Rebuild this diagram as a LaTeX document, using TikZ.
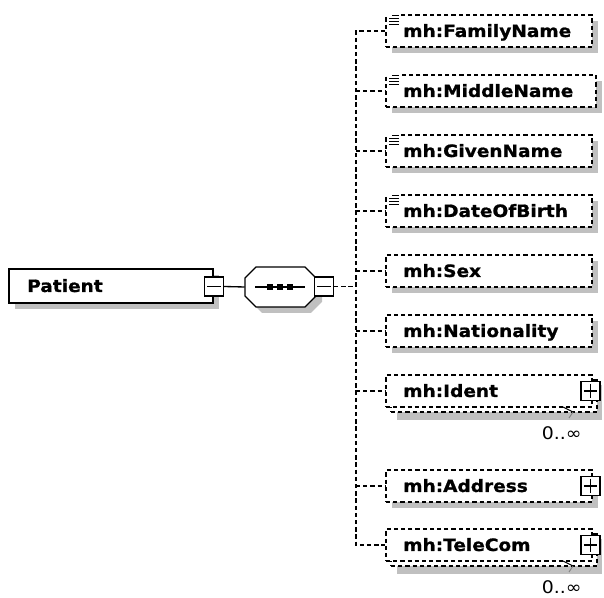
\documentclass[tikz,border=0pt]{standalone}
\usepackage{fontspec}
\usetikzlibrary{fit}
\newfontfamily\lblfont{DejaVu Sans}[FakeStretch=1.09, BoldFeatures={FakeBold=1}]
\definecolor{shd}{RGB}{192,192,192}
\tikzset{
  solidbox/.style={draw=black, fill=white, line width=1pt, inner sep=0pt},
  dashbox/.style={draw=black, fill=white, line width=1pt, inner sep=0pt, dash pattern=on 3.2pt off 2.2pt},
  dline/.style={draw=black, line width=1pt, dash pattern=on 3.2pt off 2.2pt},
  sline/.style={draw=black, line width=1pt},
  etext/.style={anchor=base west, inner sep=0pt, font=\lblfont\bfseries\fontsize{12.75}{14}\selectfont},
  occ/.style={anchor=base east, inner sep=0pt, font=\lblfont\fontsize{13}{14}\selectfont},
  pmbox/.style={draw=black, fill=white, line width=1.1pt, inner sep=0pt, minimum width=14pt, minimum height=14.5pt},
  pmsign/.style={draw=black, line width=1pt},
}
\newcommand\elemrow[4]{%
  \fill[shd] (392,#2-10) rectangle (#3+6,#2+22);
  \node[dashbox, fit={(386,#2-16) (#3,#2+16)}] (#1) {};
  \node[etext] (#1txt) at (403,#2+6) {mh:#4};
}
\newcommand\simpleicon[1]{%
  \fill[white] ([shift={(2,-1)}]#1.north west) rectangle ([shift={(16,12)}]#1.north west);
  \foreach \k/\a in {0/3,1/0,2/0,3/0}
    \draw[line width=0.8pt] ([shift={(4+\a,1.5+3*\k)}]#1.north west) -- ++(10-\a,0);
}
\newcommand\plusbox[2]{%
  \node[pmbox] (#1pm) at (590.5,#2) {};
  \draw[pmsign] ([xshift=2.5pt]#1pm.west) -- ([xshift=-2.5pt]#1pm.east);
  \draw[pmsign] ([yshift=-2.5pt]#1pm.north) -- ([yshift=2.5pt]#1pm.south);
}
\newcommand\multirow[3]{%
  \fill[shd] (397,#2-6) rectangle (602,#2+29);
  \node[dashbox, fit={(391,#2-11) (597,#2+21)}] (#1b) {};
  \node[dashbox, fit={(386,#2-16) (592,#2+16)}] (#1) {};
  \node[etext] (#1txt) at (403,#2+6) {mh:#3};
  \plusbox{#1}{#2}
  \draw[line width=0.7pt] (563,#2+16) -- (573,#2+21);
  \draw[line width=0.7pt, gray] (573,#2+21) -- (569,#2+27);
  \node[occ] (#1occ) at (582,#2+49) {0..∞};
}
\begin{document}
\begin{tikzpicture}[x=0.75pt,y=-0.75pt]
\useasboundingbox (0,0) rectangle (604,598);
\coordinate (bus) at (356,286);

% Patient
\fill[shd] (15,275) rectangle (219,309);
\node[solidbox, fit={(9,269) (213,303)}] (patient) {};
\node[etext] (patienttxt) at (27,292) {Patient};
\node[pmbox] (pm1) at (214,286.5) {};
\draw[pmsign] ([xshift=2.5pt]pm1.west) -- ([xshift=-2.5pt]pm1.east);

% sequence compositor
\fill[shd, shift={(6,6)}] (245,278) -- (256,267) -- (305,267) -- (316,278) -- (316,296) -- (305,307) -- (256,307) -- (245,296) -- cycle;
\node[fit={(245,267) (316,307)}, inner sep=0pt] (seq) {};
\filldraw[fill=white, draw=black, line width=1pt] (245,278) -- (256,267) -- (305,267) -- (316,278) -- (316,296) -- (305,307) -- (256,307) -- (245,296) -- cycle;
\draw[sline] (255,287) -- (305,287);
\foreach \sx in {270,280,290} \fill (\sx-3,284) rectangle (\sx+3,290);
\node[pmbox] (pm2) at (324,286.5) {};
\draw[pmsign] ([xshift=2.5pt]pm2.west) -- ([xshift=-2.5pt]pm2.east);

\draw[sline] (pm1.east) -- (seq.west);

% children
\elemrow{fam}{31}{592}{FamilyName}
\simpleicon{fam}
\elemrow{mid}{91}{596}{MiddleName}
\simpleicon{mid}
\elemrow{giv}{151}{592}{GivenName}
\simpleicon{giv}
\elemrow{dob}{211}{592}{DateOfBirth}
\simpleicon{dob}
\elemrow{sex}{271}{592}{Sex}
\elemrow{nat}{331}{592}{Nationality}
\multirow{ident}{391}{Ident}
\elemrow{addr}{486}{592}{Address}
\plusbox{addr}{486}
\multirow{tel}{545}{TeleCom}

% connectors
\draw[dline] (pm2.east) -- (pm2.east -| bus);
\draw[dline] (fam.west) -| (bus |- tel.west) -- (tel.west);
\foreach \n in {mid,giv,dob,sex,nat,ident,addr}
  \draw[dline] (\n.west -| bus) -- (\n.west);
\end{tikzpicture}
\end{document}
